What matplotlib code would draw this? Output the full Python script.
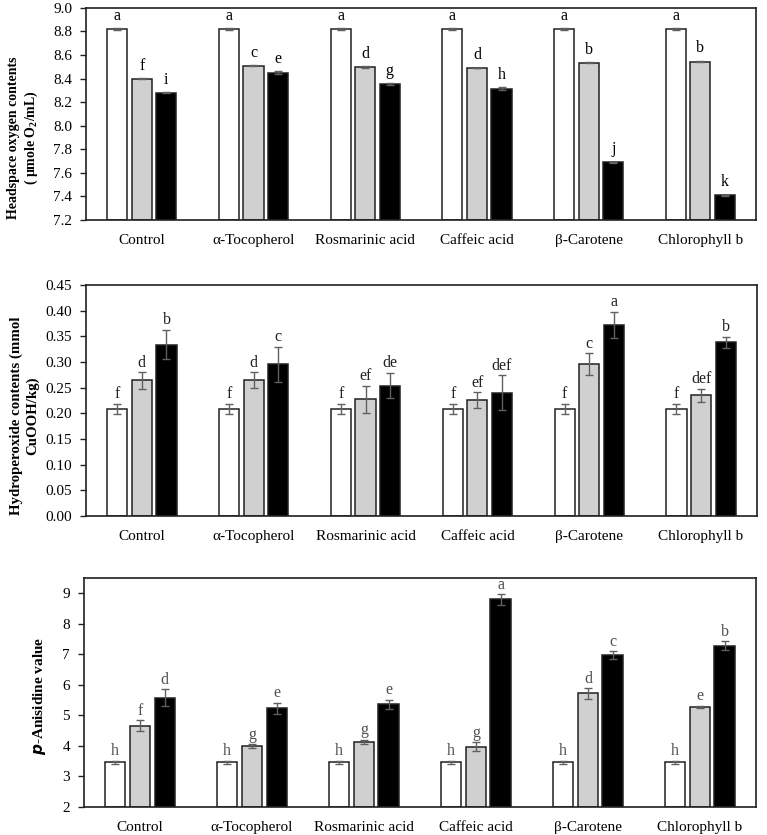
import matplotlib
matplotlib.use('Agg')
import matplotlib.pyplot as plt
import numpy as np

plt.rcParams['font.family'] = ['Liberation Serif', 'DejaVu Serif']
plt.rcParams['mathtext.fontset'] = 'custom'
plt.rcParams['mathtext.rm'] = 'Liberation Serif'
plt.rcParams['mathtext.it'] = 'Liberation Serif:italic'
plt.rcParams['mathtext.bf'] = 'Liberation Serif:bold'

categorias = ['Control', 'α-Tocopherol', 'Rosmarinic acid', 'Caffeic acid', 'β-Carotene', 'Chlorophyll b']

# --- Panel 1: headspace oxygen ---
oxi_blanco = [8.82, 8.82, 8.82, 8.82, 8.82, 8.82]
oxi_gris = [8.40, 8.51, 8.50, 8.49, 8.535, 8.545]
oxi_negro = [8.28, 8.45, 8.355, 8.315, 7.69, 7.41]
oxi_err_blanco = [0.006, 0.006, 0.006, 0.006, 0.006, 0.006]
oxi_err_gris = [0.006, 0.006, 0.008, 0.004, 0.002, 0.008]
oxi_err_negro = [0.004, 0.012, 0.010, 0.014, 0.006, 0.006]
oxi_letras = [['a', 'f', 'i'], ['a', 'c', 'e'], ['a', 'd', 'g'],
              ['a', 'd', 'h'], ['a', 'b', 'j'], ['a', 'b', 'k']]

# --- Panel 2: hydroperoxide ---
hid_blanco = [0.209, 0.209, 0.209, 0.209, 0.209, 0.209]
hid_gris = [0.264, 0.265, 0.227, 0.226, 0.296, 0.235]
hid_negro = [0.334, 0.296, 0.254, 0.240, 0.372, 0.338]
hid_err_blanco = [0.010, 0.010, 0.010, 0.010, 0.010, 0.010]
hid_err_gris = [0.016, 0.015, 0.027, 0.015, 0.021, 0.013]
hid_err_negro = [0.029, 0.034, 0.025, 0.034, 0.026, 0.011]
hid_letras = [['f', 'd', 'b'], ['f', 'd', 'c'], ['f', 'ef', 'de'],
              ['f', 'ef', 'def'], ['f', 'c', 'a'], ['f', 'def', 'b']]

# --- Panel 3: p-anisidine ---
ani_blanco = [3.47, 3.47, 3.47, 3.47, 3.47, 3.47]
ani_gris = [4.66, 3.99, 4.13, 3.98, 5.72, 5.28]
ani_negro = [5.58, 5.24, 5.37, 8.80, 6.97, 7.28]
ani_err_blanco = [0.05, 0.05, 0.05, 0.05, 0.05, 0.05]
ani_err_gris = [0.18, 0.06, 0.07, 0.14, 0.18, 0.04]
ani_err_negro = [0.27, 0.18, 0.15, 0.17, 0.13, 0.15]
ani_letras = [['h', 'f', 'd'], ['h', 'g', 'e'], ['h', 'g', 'e'],
              ['h', 'g', 'a'], ['h', 'd', 'c'], ['h', 'e', 'b']]

colores = ['white', '#d0d0d0', 'black']
ancho = 0.18
paso = 0.22


def dibujar_panel(ax, series, errores, letras, ylim, yticks, fmt, ylabel, color_letra,
                  tam_label, pos_label, desfase):
    x = np.arange(len(categorias))
    for k, (vals, errs) in enumerate(zip(series, errores)):
        pos = x + (k - 1) * paso
        ax.bar(pos, np.array(vals) - ylim[0], ancho, bottom=ylim[0], color=colores[k],
               edgecolor='#202020', linewidth=1.1, zorder=2)
        ax.errorbar(pos, vals, yerr=errs, fmt='none', ecolor='#606060',
                    elinewidth=1.0, capsize=3, capthick=1.0, zorder=3)
        for i in range(len(categorias)):
            ax.annotate(letras[i][k], (pos[i], vals[i] + errs[i]), xytext=(0, desfase),
                        textcoords='offset points', ha='center', va='bottom',
                        fontsize=11.5, color=color_letra)
    ax.set_xlim(-0.5, len(categorias) - 0.5)
    ax.set_ylim(*ylim)
    ax.set_yticks(yticks)
    ax.set_yticklabels([fmt.format(v) for v in yticks])
    ax.set_xticks(x)
    ax.set_xticklabels(categorias)
    ax.tick_params(axis='y', direction='out', length=4, width=1.0, color='#202020',
                   labelsize=11, pad=6)
    ax.tick_params(axis='x', length=0, labelsize=11, pad=10)
    for s in ax.spines.values():
        s.set_linewidth(1.2)
        s.set_color('#202020')
    ax.set_ylabel(ylabel, fontsize=tam_label, fontweight='bold')
    ax.yaxis.set_label_coords(*pos_label)


fig = plt.figure(figsize=(7.67, 8.35), dpi=100)

ax1 = fig.add_axes([0.112, 0.7365, 0.874, 0.254])
dibujar_panel(ax1, [oxi_blanco, oxi_gris, oxi_negro],
              [oxi_err_blanco, oxi_err_gris, oxi_err_negro], oxi_letras,
              (7.2, 9.0), np.arange(7.2, 9.01, 0.2), '{:.1f}',
              'Headspace oxygen contents\n( μmole O$_\\mathbf{2}$/mL)', 'black', 10,
              (-0.069, 0.39), 3)

ax2 = fig.add_axes([0.112, 0.382, 0.875, 0.2767])
dibujar_panel(ax2, [hid_blanco, hid_gris, hid_negro],
              [hid_err_blanco, hid_err_gris, hid_err_negro], hid_letras,
              (0.0, 0.45), np.arange(0.0, 0.451, 0.05), '{:.2f}',
              'Hydroperoxide contents (mmol\nCuOOH/kg)', '#202020', 10.7,
              (-0.07, 0.435), 1)

ax3 = fig.add_axes([0.1095, 0.0335, 0.876, 0.2743])
dibujar_panel(ax3, [ani_blanco, ani_gris, ani_negro],
              [ani_err_blanco, ani_err_gris, ani_err_negro], ani_letras,
              (2.0, 9.5), np.arange(2, 10, 1), '{:.0f}',
              '$\\mathbfit{p}$-Anisidine value', '#505050', 11,
              (-0.054, 0.485), 1)

plt.savefig('out.png', dpi=100)
plt.close(fig)
